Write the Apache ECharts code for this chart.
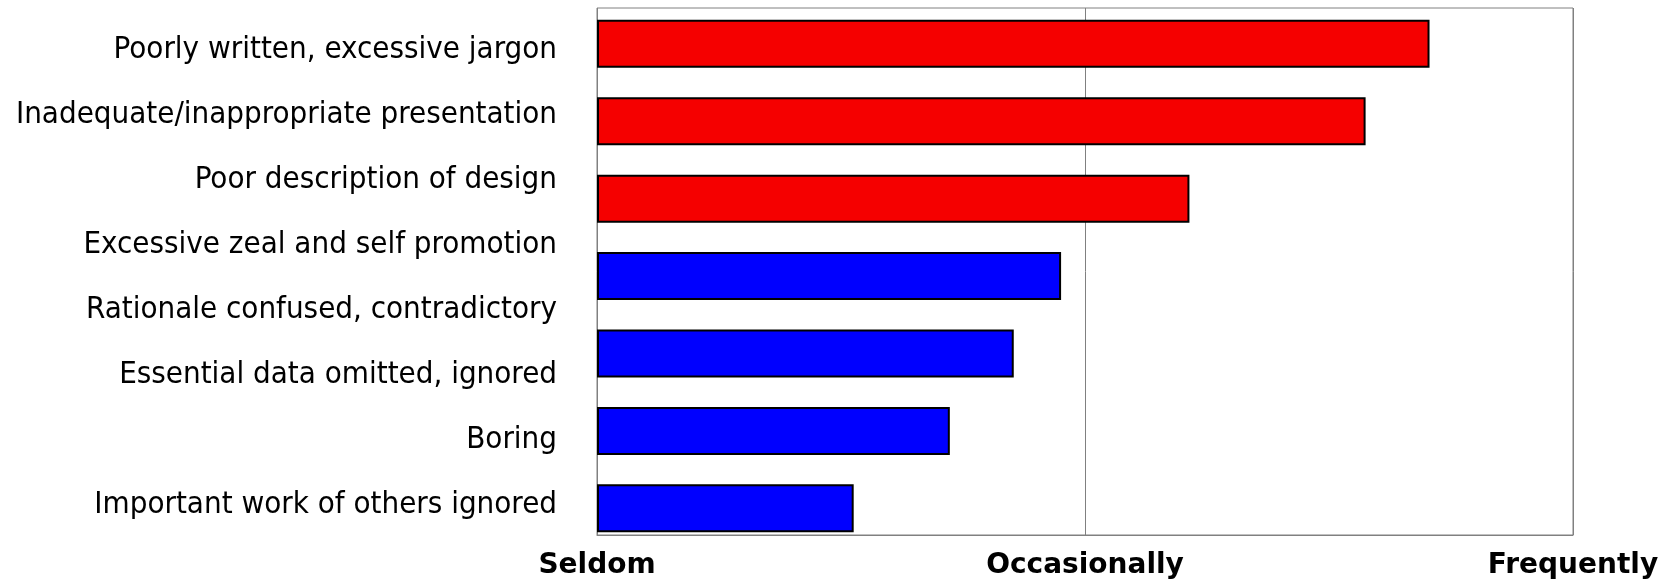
<!DOCTYPE html>
<html>
<head>
<meta charset="utf-8">
<title>Common faults in papers</title>
<script src="https://cdn.jsdelivr.net/npm/echarts@6/dist/echarts.min.js"></script>
<style>
  html, body { margin: 0; padding: 0; background: #ffffff; }
  #chart { width: 1675px; height: 580px; }
</style>
</head>
<body>
<div id="chart"></div>
<script>
// Row labels, listed top to bottom
const categories = [
  'Poorly written, excessive jargon',
  'Inadequate/inappropriate presentation',
  'Poor description of design',
  'Excessive zeal and self promotion',
  'Rationale confused, contradictory',
  'Essential data omitted, ignored',
  'Boring',
  'Important work of others ignored'
];

// Bar lengths on the frequency scale (0 = Seldom, 1 = Occasionally, 2 = Frequently), top to bottom
const barValues = [1.706, 1.575, 1.214, 0.951, 0.854, 0.723, 0.526];
const barColors = ['#f50000', '#f50000', '#f50000', '#0000ff', '#0000ff', '#0000ff', '#0000ff'];
const barRows = ['1', '2', '3', '4', '5', '6', '7'];

// Frequency scale tick labels
const scaleLabels = ['Seldom', 'Occasionally', 'Frequently'];

const chart = echarts.init(document.getElementById('chart'));

const plotLeft = 597;
const plotRight = 102;

chart.setOption({
  animation: false,
  backgroundColor: '#ffffff',
  grid: [
    // frame with the frequency scale
    { left: plotLeft, right: plotRight, top: 8, bottom: 44.5, show: true,
      borderColor: '#808080', borderWidth: 1, backgroundColor: 'transparent' },
    // row labels
    { left: plotLeft, right: plotRight, top: 17.5, height: 520 },
    // bars
    { left: plotLeft, right: plotRight, top: 5.1, height: 541.9 }
  ],
  xAxis: [
    {
      gridIndex: 0, type: 'value', min: 0, max: 2, interval: 1,
      axisLine: { show: true, lineStyle: { color: '#808080', width: 1 } },
      axisTick: { show: false },
      splitLine: { show: true, lineStyle: { color: '#808080', width: 1 } },
      axisLabel: {
        show: true, margin: 17,
        fontFamily: 'DejaVu Sans', fontWeight: 'bold', fontSize: 28, color: '#000000',
        formatter: function (v) { return scaleLabels[Math.round(v)] || ''; }
      }
    },
    { gridIndex: 1, type: 'value', min: 0, max: 2, show: false },
    { gridIndex: 2, type: 'value', min: 0, max: 2, show: false }
  ],
  yAxis: [
    { gridIndex: 0, type: 'value', min: 0, max: 1, show: false },
    {
      gridIndex: 1, type: 'category', data: categories, inverse: true,
      axisLine: { show: false }, axisTick: { show: false }, splitLine: { show: false },
      axisLabel: {
        margin: 40, color: '#000000',
        fontFamily: "'DejaVu Sans Condensed', 'DejaVu Sans'", fontSize: 31
      }
    },
    { gridIndex: 2, type: 'category', data: barRows, inverse: true, show: false }
  ],
  series: [
    {
      type: 'bar',
      xAxisIndex: 2,
      yAxisIndex: 2,
      barWidth: 48,
      data: barValues.map(function (v, i) {
        return {
          value: v,
          itemStyle: { color: barColors[i], borderColor: '#000000', borderWidth: 2 }
        };
      }),
      silent: true
    }
  ]
});
</script>
</body>
</html>
